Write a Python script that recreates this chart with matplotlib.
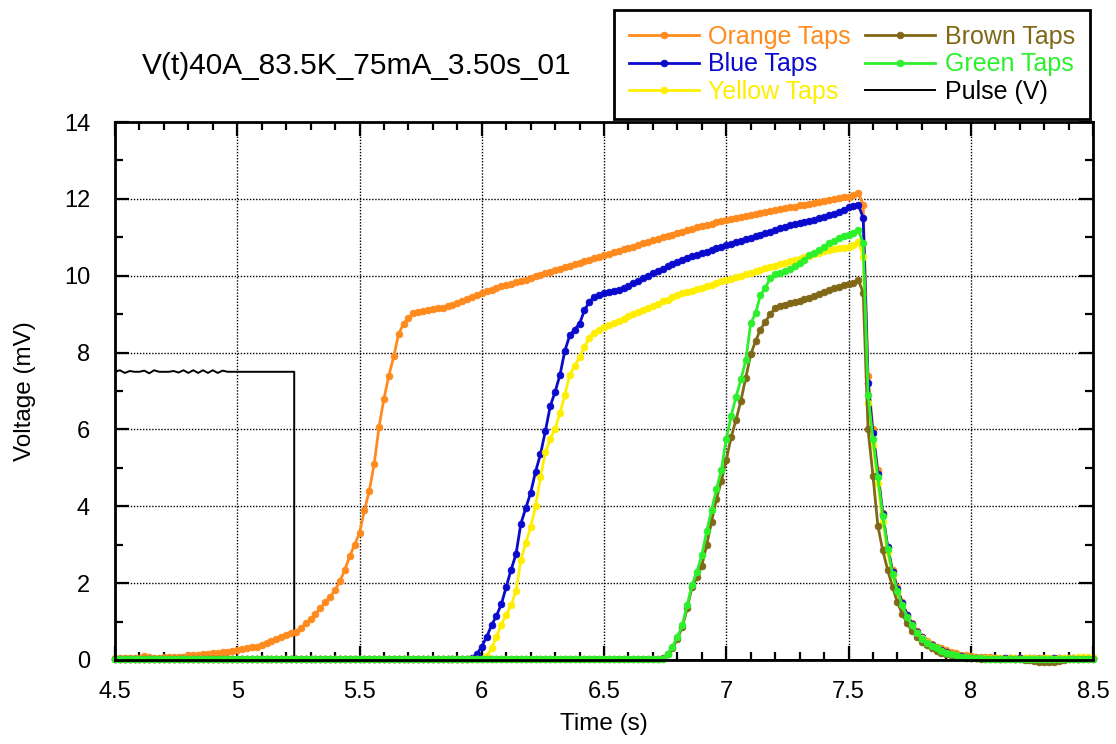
import numpy as np
import matplotlib
matplotlib.use("Agg")
import matplotlib.pyplot as plt
from matplotlib.ticker import MultipleLocator, FuncFormatter

# ---------------- data ----------------
# sampling grid (s): 4.50, 4.52, ..., 8.50  (201 samples)
time_s = np.linspace(4.5, 8.5, 201)

orange_taps = [
    0.05, 0.05, 0.06, 0.05, 0.05, 0.06, 0.10, 0.07, 0.06, 0.06,   # 4.50-4.68
    0.07, 0.07, 0.07, 0.08, 0.08, 0.12, 0.12, 0.14, 0.15, 0.15,   # 4.70-4.88
    0.17, 0.18, 0.20, 0.22, 0.23, 0.26, 0.28, 0.30, 0.33, 0.35,   # 4.90-5.08
    0.39, 0.45, 0.50, 0.54, 0.60, 0.65, 0.70, 0.74, 0.82, 0.95,   # 5.10-5.28
    1.07, 1.20, 1.36, 1.50, 1.65, 1.82, 2.05, 2.35, 2.70, 3.00,   # 5.30-5.48
    3.30, 3.90, 4.40, 5.10, 6.07, 6.80, 7.40, 7.90, 8.48, 8.75,   # 5.50-5.68
    8.90, 9.02, 9.06, 9.09, 9.11, 9.13, 9.15, 9.17, 9.20, 9.24,   # 5.70-5.88
    9.29, 9.34, 9.39, 9.44, 9.49, 9.54, 9.59, 9.63, 9.67, 9.72,   # 5.90-6.08
    9.76, 9.79, 9.83, 9.87, 9.90, 9.95, 9.99, 10.03, 10.06, 10.10,  # 6.10-6.28
    10.14, 10.18, 10.22, 10.26, 10.30, 10.34, 10.38, 10.42, 10.46, 10.50,  # 6.30-6.48
    10.54, 10.57, 10.61, 10.65, 10.69, 10.72, 10.76, 10.80, 10.84, 10.88,  # 6.50-6.68
    10.92, 10.96, 11.00, 11.03, 11.07, 11.11, 11.15, 11.19, 11.22, 11.26,  # 6.70-6.88
    11.29, 11.32, 11.35, 11.39, 11.42, 11.45, 11.47, 11.50, 11.52, 11.55,  # 6.90-7.08
    11.58, 11.60, 11.63, 11.66, 11.68, 11.71, 11.73, 11.76, 11.78, 11.80,  # 7.10-7.28
    11.83, 11.85, 11.87, 11.90, 11.92, 11.94, 11.97, 11.99, 12.01, 12.04,  # 7.30-7.48
    12.06, 12.10, 12.16, 11.84, 7.40, 6.00, 4.95, 3.82, 2.95, 2.35,   # 7.50-7.68
    1.90, 1.50, 1.18, 0.95, 0.75, 0.60, 0.50, 0.42, 0.35, 0.30,   # 7.70-7.88
    0.25, 0.20, 0.17, 0.14, 0.12, 0.10, 0.09, 0.08, 0.07, 0.07,   # 7.90-8.08
    0.06, 0.06, 0.06, 0.05, 0.06, 0.05, 0.05, 0.06, 0.05, 0.05,   # 8.10-8.28
    0.05, 0.05, 0.06, 0.05, 0.05, 0.05, 0.06, 0.05, 0.05, 0.06,   # 8.30-8.48
    0.06,                                                         # 8.50
]

blue_taps = [
    0.02, 0.03, 0.02, 0.02, 0.03, 0.02, 0.02, 0.03, 0.02, 0.02,   # 4.50-4.68
    0.02, 0.03, 0.02, 0.02, 0.02, 0.03, 0.02, 0.02, 0.03, 0.02,   # 4.70-4.88
    0.02, 0.02, 0.03, 0.02, 0.02, 0.03, 0.02, 0.02, 0.02, 0.03,   # 4.90-5.08
    0.02, 0.02, 0.03, 0.02, 0.02, 0.02, 0.03, 0.02, 0.02, 0.03,   # 5.10-5.28
    0.02, 0.02, 0.02, 0.03, 0.02, 0.02, 0.03, 0.02, 0.02, 0.02,   # 5.30-5.48
    0.03, 0.02, 0.02, 0.03, 0.02, 0.02, 0.02, 0.03, 0.02, 0.02,   # 5.50-5.68
    0.03, 0.02, 0.02, 0.02, 0.03, 0.02, 0.02, 0.03, 0.02, 0.02,   # 5.70-5.88
    0.02, 0.03, 0.02, 0.05, 0.15, 0.35, 0.60, 0.90, 1.15, 1.45,   # 5.90-6.08
    1.90, 2.35, 2.75, 3.55, 3.95, 4.35, 4.90, 5.35, 5.95, 6.60,   # 6.10-6.28
    6.98, 7.42, 8.05, 8.45, 8.60, 8.75, 9.10, 9.32, 9.45, 9.50,   # 6.30-6.48
    9.54, 9.57, 9.60, 9.64, 9.68, 9.73, 9.80, 9.87, 9.94, 10.00,  # 6.50-6.68
    10.06, 10.12, 10.18, 10.25, 10.30, 10.36, 10.41, 10.46, 10.51, 10.55,  # 6.70-6.88
    10.59, 10.63, 10.67, 10.71, 10.76, 10.80, 10.83, 10.87, 10.91, 10.95,  # 6.90-7.08
    10.99, 11.03, 11.07, 11.11, 11.15, 11.20, 11.24, 11.28, 11.31, 11.34,  # 7.10-7.28
    11.37, 11.40, 11.43, 11.46, 11.50, 11.53, 11.57, 11.61, 11.66, 11.72,  # 7.30-7.48
    11.78, 11.82, 11.85, 11.50, 7.20, 5.90, 4.85, 3.80, 2.95, 2.30,   # 7.50-7.68
    1.85, 1.48, 1.18, 0.94, 0.74, 0.59, 0.48, 0.40, 0.32, 0.26,   # 7.70-7.88
    0.20, 0.16, 0.12, 0.10, 0.08, 0.06, 0.05, 0.05, 0.04, 0.04,   # 7.90-8.08
    0.04, 0.03, 0.04, 0.04, 0.03, 0.04, 0.03, 0.04, 0.04, 0.03,   # 8.10-8.28
    0.04, 0.03, 0.04, 0.04, 0.03, 0.04, 0.04, 0.03, 0.04, 0.04,   # 8.30-8.48
    0.04,                                                         # 8.50
]

yellow_taps = [
    0.02, 0.02, 0.03, 0.02, 0.02, 0.03, 0.02, 0.02, 0.02, 0.03,   # 4.50-4.68
    0.02, 0.02, 0.03, 0.02, 0.02, 0.02, 0.03, 0.02, 0.02, 0.03,   # 4.70-4.88
    0.02, 0.02, 0.02, 0.03, 0.02, 0.02, 0.03, 0.02, 0.02, 0.02,   # 4.90-5.08
    0.03, 0.02, 0.02, 0.02, 0.03, 0.02, 0.02, 0.03, 0.02, 0.02,   # 5.10-5.28
    0.02, 0.03, 0.02, 0.02, 0.03, 0.02, 0.02, 0.02, 0.03, 0.02,   # 5.30-5.48
    0.02, 0.02, 0.03, 0.02, 0.02, 0.03, 0.02, 0.02, 0.02, 0.03,   # 5.50-5.68
    0.02, 0.02, 0.03, 0.02, 0.02, 0.02, 0.03, 0.02, 0.02, 0.03,   # 5.70-5.88
    0.02, 0.02, 0.02, 0.03, 0.02, 0.03, 0.10, 0.30, 0.60, 0.92,   # 5.90-6.08
    1.18, 1.42, 1.80, 2.60, 3.05, 3.45, 4.00, 4.75, 5.40, 5.75,   # 6.10-6.28
    6.02, 6.42, 6.90, 7.42, 7.65, 7.88, 8.15, 8.38, 8.52, 8.60,   # 6.30-6.48
    8.66, 8.71, 8.76, 8.82, 8.88, 8.95, 9.00, 9.05, 9.11, 9.17,   # 6.50-6.68
    9.22, 9.27, 9.33, 9.38, 9.44, 9.50, 9.54, 9.57, 9.61, 9.65,   # 6.70-6.88
    9.69, 9.72, 9.76, 9.80, 9.85, 9.89, 9.92, 9.96, 10.00, 10.04,  # 6.90-7.08
    10.07, 10.11, 10.15, 10.19, 10.22, 10.26, 10.30, 10.33, 10.37, 10.41,  # 7.10-7.28
    10.44, 10.48, 10.52, 10.56, 10.60, 10.64, 10.67, 10.70, 10.72, 10.73,  # 7.30-7.48
    10.75, 10.80, 10.89, 10.50, 6.70, 5.60, 4.60, 3.60, 2.80, 2.20,   # 7.50-7.68
    1.75, 1.40, 1.10, 0.88, 0.70, 0.56, 0.46, 0.37, 0.30, 0.24,   # 7.70-7.88
    0.19, 0.15, 0.12, 0.09, 0.07, 0.06, 0.05, 0.05, 0.04, 0.04,   # 7.90-8.08
    0.04, 0.04, 0.03, 0.04, 0.04, 0.03, 0.04, 0.04, 0.04, 0.03,   # 8.10-8.28
    0.04, 0.04, 0.03, 0.04, 0.04, 0.05, 0.06, 0.08, 0.08, 0.08,   # 8.30-8.48
    0.08,                                                         # 8.50
]

brown_taps = [
    0.02, 0.02, 0.02, 0.03, 0.02, 0.02, 0.02, 0.03, 0.02, 0.02,   # 4.50-4.68
    0.03, 0.02, 0.02, 0.02, 0.03, 0.02, 0.02, 0.02, 0.03, 0.02,   # 4.70-4.88
    0.02, 0.03, 0.02, 0.02, 0.02, 0.03, 0.02, 0.02, 0.03, 0.02,   # 4.90-5.08
    0.02, 0.02, 0.03, 0.02, 0.02, 0.03, 0.02, 0.02, 0.02, 0.03,   # 5.10-5.28
    0.02, 0.02, 0.03, 0.02, 0.02, 0.02, 0.03, 0.02, 0.02, 0.03,   # 5.30-5.48
    0.02, 0.02, 0.02, 0.03, 0.02, 0.02, 0.03, 0.02, 0.02, 0.02,   # 5.50-5.68
    0.03, 0.02, 0.02, 0.03, 0.02, 0.02, 0.02, 0.03, 0.02, 0.02,   # 5.70-5.88
    0.03, 0.02, 0.02, 0.02, 0.03, 0.02, 0.02, 0.03, 0.02, 0.02,   # 5.90-6.08
    0.02, 0.03, 0.02, 0.02, 0.03, 0.02, 0.02, 0.02, 0.03, 0.02,   # 6.10-6.28
    0.02, 0.03, 0.02, 0.02, 0.02, 0.03, 0.02, 0.02, 0.03, 0.02,   # 6.30-6.48
    0.02, 0.02, 0.03, 0.02, 0.02, 0.03, 0.02, 0.02, 0.02, 0.03,   # 6.50-6.68
    0.02, 0.02, 0.04, 0.15, 0.30, 0.55, 0.85, 1.35, 1.90, 2.15,   # 6.70-6.88
    2.45, 3.00, 3.60, 4.20, 4.65, 5.20, 5.80, 6.25, 6.75, 7.35,   # 6.90-7.08
    7.95, 8.30, 8.60, 8.80, 9.00, 9.15, 9.22, 9.25, 9.28, 9.31,   # 7.10-7.28
    9.35, 9.39, 9.43, 9.47, 9.52, 9.58, 9.62, 9.67, 9.71, 9.75,   # 7.30-7.48
    9.78, 9.81, 9.89, 9.56, 6.00, 4.80, 3.50, 2.85, 2.35, 1.90,   # 7.50-7.68
    1.50, 1.20, 0.95, 0.75, 0.60, 0.48, 0.38, 0.30, 0.24, 0.19,   # 7.70-7.88
    0.15, 0.12, 0.09, 0.07, 0.05, 0.04, 0.04, 0.03, 0.03, 0.03,   # 7.90-8.08
    0.03, 0.03, 0.02, 0.03, 0.02, 0.02, 0.01, 0.00, -0.02, -0.04,  # 8.10-8.28
    -0.04, -0.05, -0.04, -0.03, 0.00, 0.02, 0.03, 0.03, 0.03, 0.03,  # 8.30-8.48
    0.03,                                                         # 8.50
]

green_taps = [
    0.03, 0.03, 0.02, 0.03, 0.03, 0.02, 0.03, 0.03, 0.03, 0.02,   # 4.50-4.68
    0.03, 0.03, 0.02, 0.03, 0.03, 0.03, 0.02, 0.03, 0.03, 0.02,   # 4.70-4.88
    0.03, 0.03, 0.03, 0.02, 0.03, 0.03, 0.02, 0.03, 0.03, 0.03,   # 4.90-5.08
    0.02, 0.03, 0.03, 0.02, 0.03, 0.03, 0.03, 0.02, 0.03, 0.03,   # 5.10-5.28
    0.03, 0.02, 0.03, 0.03, 0.02, 0.03, 0.03, 0.03, 0.02, 0.03,   # 5.30-5.48
    0.03, 0.03, 0.02, 0.03, 0.03, 0.02, 0.03, 0.03, 0.03, 0.02,   # 5.50-5.68
    0.03, 0.03, 0.02, 0.03, 0.03, 0.03, 0.02, 0.03, 0.03, 0.02,   # 5.70-5.88
    0.03, 0.03, 0.03, 0.02, 0.03, 0.03, 0.02, 0.03, 0.03, 0.03,   # 5.90-6.08
    0.02, 0.03, 0.03, 0.02, 0.03, 0.03, 0.03, 0.02, 0.03, 0.03,   # 6.10-6.28
    0.03, 0.02, 0.03, 0.03, 0.02, 0.03, 0.03, 0.03, 0.02, 0.03,   # 6.30-6.48
    0.03, 0.03, 0.02, 0.03, 0.03, 0.02, 0.03, 0.03, 0.03, 0.02,   # 6.50-6.68
    0.03, 0.03, 0.03, 0.15, 0.35, 0.60, 0.90, 1.42, 1.95, 2.30,   # 6.70-6.88
    2.73, 3.35, 3.90, 4.45, 4.95, 5.75, 6.35, 6.85, 7.30, 7.80,   # 6.90-7.08
    8.76, 9.02, 9.50, 9.69, 9.93, 10.04, 10.07, 10.11, 10.18, 10.25,  # 7.10-7.28
    10.33, 10.42, 10.53, 10.60, 10.68, 10.76, 10.84, 10.91, 10.97, 11.03,  # 7.30-7.48
    11.07, 11.10, 11.20, 10.84, 6.90, 5.75, 4.75, 3.75, 2.90, 2.25,   # 7.50-7.68
    1.80, 1.42, 1.12, 0.90, 0.70, 0.55, 0.45, 0.36, 0.30, 0.24,   # 7.70-7.88
    0.19, 0.15, 0.12, 0.09, 0.07, 0.05, 0.04, 0.04, 0.03, 0.03,   # 7.90-8.08
    0.03, 0.03, 0.02, 0.03, 0.03, 0.02, 0.03, 0.03, 0.02, 0.03,   # 8.10-8.28
    0.03, 0.02, 0.03, 0.03, 0.02, 0.03, 0.03, 0.03, 0.02, 0.03,   # 8.30-8.48
    0.03,                                                         # 8.50
]

pulse_t = [4.50, 4.52, 4.54, 4.56, 4.58, 4.60, 4.62, 4.64, 4.66, 4.68,
           4.70, 4.72, 4.74, 4.76, 4.78, 4.80, 4.82, 4.84, 4.86, 4.88,
           4.90, 4.92, 4.94, 4.96, 4.98, 5.00, 5.02, 5.04, 5.06, 5.08,
           5.10, 5.12, 5.14, 5.16, 5.18, 5.20, 5.22, 5.233, 5.233, 8.50]
pulse_v = [7.50, 7.54, 7.47, 7.52, 7.50, 7.50, 7.53, 7.46, 7.54, 7.50,
           7.50, 7.50, 7.52, 7.48, 7.54, 7.47, 7.54, 7.47, 7.54, 7.47,
           7.54, 7.47, 7.53, 7.50, 7.50, 7.50, 7.50, 7.50, 7.50, 7.50,
           7.50, 7.50, 7.50, 7.50, 7.50, 7.50, 7.50, 7.50, 0.00, 0.00]

series_names = ["Orange Taps", "Blue Taps", "Yellow Taps", "Brown Taps", "Green Taps"]
series_values = [orange_taps, blue_taps, yellow_taps, brown_taps, green_taps]
series_colors = ["#FF8A1E", "#0A0ACC", "#FFEE00", "#806818", "#2CF02C"]

title_text = "V(t)40A_83.5K_75mA_3.50s_01"

# ---------------- plot ----------------
plt.rcParams['font.family'] = ['Liberation Sans', 'DejaVu Sans']

W, H = 1116, 744
fig = plt.figure(figsize=(W / 100, H / 100), dpi=100)
ax = fig.add_axes([115 / W, 84 / H, 978 / W, 538 / H])

pulse_line, = ax.plot(pulse_t, pulse_v, color="black", lw=1.4, zorder=2,
                      label="Pulse (V)")
handles = {}
for name, vals, col in zip(series_names, series_values, series_colors):
    h, = ax.plot(time_s, vals, "-o", color=col, lw=2.0, ms=4.8, mec=col,
                 mew=0.6, label=name, zorder=3, clip_on=False)
    handles[name] = h

ax.set_xlim(4.5, 8.5)
ax.set_ylim(0, 14)
ax.xaxis.set_major_locator(MultipleLocator(0.5))
ax.xaxis.set_minor_locator(MultipleLocator(0.1))
ax.yaxis.set_major_locator(MultipleLocator(2))
ax.yaxis.set_minor_locator(MultipleLocator(1))
ax.xaxis.set_major_formatter(FuncFormatter(lambda v, p: f"{v:g}"))
ax.yaxis.set_major_formatter(FuncFormatter(lambda v, p: f"{v:g}"))

ax.tick_params(which="both", direction="in", top=True, right=True,
               width=1.6, color="black")
ax.tick_params(which="major", length=10, labelsize=17)
ax.tick_params(which="minor", length=5.5)
ax.tick_params(axis="x", which="major", pad=15)
ax.tick_params(axis="y", which="major", pad=18)
for s in ax.spines.values():
    s.set_linewidth(2)
    s.set_zorder(5)
ax.grid(True, which="major", color="black", linestyle=(0, (1, 1.2)), lw=1.0,
        zorder=1)
ax.set_axisbelow(True)

ax.set_xlabel("Time (s)", fontsize=17.5, labelpad=7)
ax.set_ylabel("Voltage (mV)", fontsize=17.5, labelpad=20)

fig.text(141.5 / W, 1 - 73.5 / H, title_text, fontsize=21.5, va="baseline",
         ha="left")

leg_handles = [handles["Orange Taps"], handles["Blue Taps"], handles["Yellow Taps"],
               handles["Brown Taps"], handles["Green Taps"], pulse_line]
leg = fig.legend(leg_handles, [h.get_label() for h in leg_handles], ncol=2,
                 loc="upper right", bbox_to_anchor=(1090 / W, 1 - 10 / H),
                 fontsize=18, frameon=True, fancybox=False, framealpha=1,
                 edgecolor="black", handlelength=2.8, handletextpad=0.4,
                 columnspacing=0.55, labelspacing=0.14, borderpad=0.6,
                 borderaxespad=0, numpoints=1, labelcolor="linecolor")
leg.get_frame().set_linewidth(2)

fig.savefig("out.png", dpi=100)
